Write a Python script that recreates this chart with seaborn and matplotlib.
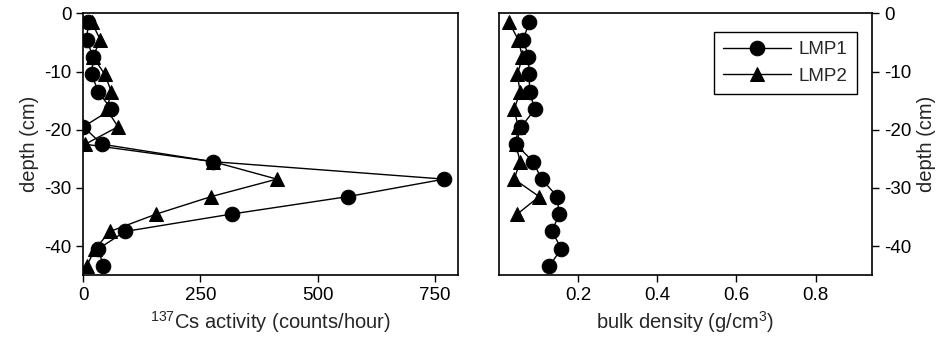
import numpy as np
import pandas as pd
import seaborn as sns
import matplotlib
matplotlib.use('Agg')
import matplotlib.pyplot as plt

sns.set_style('ticks')
plt.rcParams['font.family'] = ['Liberation Sans', 'DejaVu Sans']
plt.rcParams['mathtext.default'] = 'regular'
plt.rcParams['axes.unicode_minus'] = False

# data
depth = [-1.5, -4.5, -7.5, -10.5, -13.5, -16.5, -19.5, -22.5,
         -25.5, -28.5, -31.5, -34.5, -37.5, -40.5, -43.5]

cs_lmp1 = [11, 7, 21, 18, 32, 60, 0, 40, 277, 770, 565, 317, 89, 32, 43]
cs_lmp2 = [18, 36, 21, 46, 60, 50, 74, 4, 277, 413, 273, 156, 57, 25, 7]

bd_lmp1 = [0.077, 0.062, 0.075, 0.077, 0.078, 0.091, 0.057, 0.043,
           0.087, 0.108, 0.148, 0.152, 0.135, 0.158, 0.127]
bd_lmp2 = [0.026, 0.049, 0.060, 0.047, 0.054, 0.039, 0.049, 0.043,
           0.054, 0.039, 0.102, 0.047]

cs = pd.DataFrame({'depth': depth * 2, 'value': cs_lmp1 + cs_lmp2,
                   'site': ['LMP1'] * 15 + ['LMP2'] * 15})
bd = pd.DataFrame({'depth': depth + depth[:12], 'value': bd_lmp1 + bd_lmp2,
                   'site': ['LMP1'] * 15 + ['LMP2'] * 12})

fig = plt.figure(figsize=(9.41, 3.43), dpi=100)
ax1 = fig.add_axes([0.0885, 0.198, 0.3985, 0.763])
ax2 = fig.add_axes([0.530, 0.198, 0.397, 0.763])

kw = dict(x='value', y='depth', hue='site', style='site',
          markers={'LMP1': 'o', 'LMP2': '^'}, dashes=False,
          palette=['black', 'black'], sort=False, estimator=None,
          markersize=10.5, linewidth=1, markeredgecolor='black')

sns.lineplot(data=cs, ax=ax1, legend=False, **kw)
sns.lineplot(data=bd, ax=ax2, **kw)

for ax in (ax1, ax2):
    ax.set_ylim(-45, 0)
    ax.set_yticks([0, -10, -20, -30, -40])
    ax.tick_params(direction='out', length=5, width=1, labelsize=13.5, colors='black')
    for s in ax.spines.values():
        s.set_visible(True)
        s.set_linewidth(1.2)
        s.set_color('black')

ax1.set_xlim(0, 800)
ax1.set_xticks([0, 250, 500, 750])
ax1.set_xlabel(r'$^{137}$Cs activity (counts/hour)', fontsize=14.5)
ax1.set_ylabel('depth (cm)', fontsize=14.5)

ax2.set_xlim(0, 0.943)
ax2.set_xticks([0.2, 0.4, 0.6, 0.8])
ax2.set_xticklabels(['0.2', '0.4', '0.6', '0.8'])
ax2.set_xlabel(r'bulk density (g/cm$^3$)', fontsize=14.5)
ax2.yaxis.tick_right()
ax2.yaxis.set_label_position('right')
ax2.set_ylabel('depth (cm)', fontsize=14.5)
ax2.tick_params(axis='y', left=False, right=True)

leg = ax2.legend(loc='upper right', bbox_to_anchor=(0.958, 0.93), fontsize=13.5,
                 handlelength=3.6, fancybox=False, framealpha=1,
                 edgecolor='black', borderpad=0.5, labelspacing=0.5,
                 borderaxespad=0, handletextpad=0.4)
leg.get_frame().set_linewidth(1)

fig.savefig('out.png', dpi=100)
